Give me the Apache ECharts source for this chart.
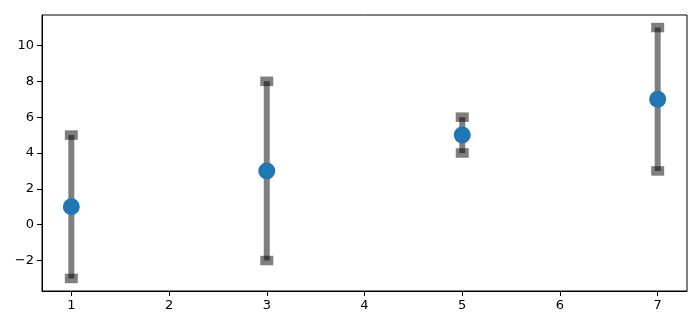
<!DOCTYPE html>
<html>
<head>
<meta charset="utf-8">
<script src="https://cdn.jsdelivr.net/npm/echarts@6/dist/echarts.min.js"></script>
<style>html,body{margin:0;padding:0;background:#fff}#c{width:700px;height:327px}</style>
</head>
<body>
<div id="c"></div>
<script>
const xValues = [1, 3, 5, 7];
const yValues = [1, 3, 5, 7];
const yErrors = [4, 5, 1, 4];
const xTicks = [1, 2, 3, 4, 5, 6, 7];
const yTicks = [-2, 0, 2, 4, 6, 8, 10];

const errData = xValues.map((x, i) => [x, yValues[i] - yErrors[i], yValues[i] + yErrors[i]]);
const ptData = xValues.map((x, i) => [x, yValues[i]]);

const chart = echarts.init(document.getElementById('c'), null, {renderer: 'canvas'});
const font = 'DejaVu Sans';
chart.setOption({
  animation: false,
  grid: {left: 42, right: 13, top: 15, bottom: 36, show: true, borderColor: '#000', borderWidth: 1, backgroundColor: 'transparent'},
  xAxis: {
    type: 'value', min: 0.7, max: 7.3,
    splitLine: {show: false},
    axisLine: {show: true, onZero: false, lineStyle: {color: '#000', width: 1}},
    axisTick: {show: true, inside: false, length: 5, lineStyle: {color: '#000'}, customValues: xTicks},
    axisLabel: {color: '#000', fontFamily: font, fontSize: 13, margin: 8, customValues: xTicks}
  },
  yAxis: {
    type: 'value', min: -3.7, max: 11.7,
    splitLine: {show: false},
    axisLine: {show: true, onZero: false, lineStyle: {color: '#000', width: 1}},
    axisTick: {show: true, inside: false, length: 5, lineStyle: {color: '#000'}, customValues: yTicks},
    axisLabel: {color: '#000', fontFamily: font, fontSize: 13, margin: 8, customValues: yTicks,
      formatter: v => (v < 0 ? '\u2212' + Math.abs(v) : String(v))}
  },
  series: [
    {
      type: 'custom',
      data: errData,
      renderItem: function (params, api) {
        const x = api.value(0);
        const lo = api.coord([x, api.value(1)]);
        const hi = api.coord([x, api.value(2)]);
        const cw = 13, ch = 9.5;
        const style = {fill: 'rgba(0,0,0,0.5)'};
        return {
          type: 'group',
          children: [
            {type: 'line', shape: {x1: lo[0], y1: lo[1], x2: hi[0], y2: hi[1]},
             style: {stroke: 'rgba(0,0,0,0.5)', lineWidth: 6}},
            {type: 'rect', shape: {x: lo[0] - cw / 2, y: lo[1] - ch / 2, width: cw, height: ch}, style: style},
            {type: 'rect', shape: {x: hi[0] - cw / 2, y: hi[1] - ch / 2, width: cw, height: ch}, style: style}
          ]
        };
      },
      z: 2
    },
    {
      type: 'scatter',
      data: ptData,
      symbol: 'circle',
      symbolSize: 17,
      itemStyle: {color: '#1f77b4', opacity: 1},
      z: 3
    }
  ]
});
</script>
</body>
</html>
